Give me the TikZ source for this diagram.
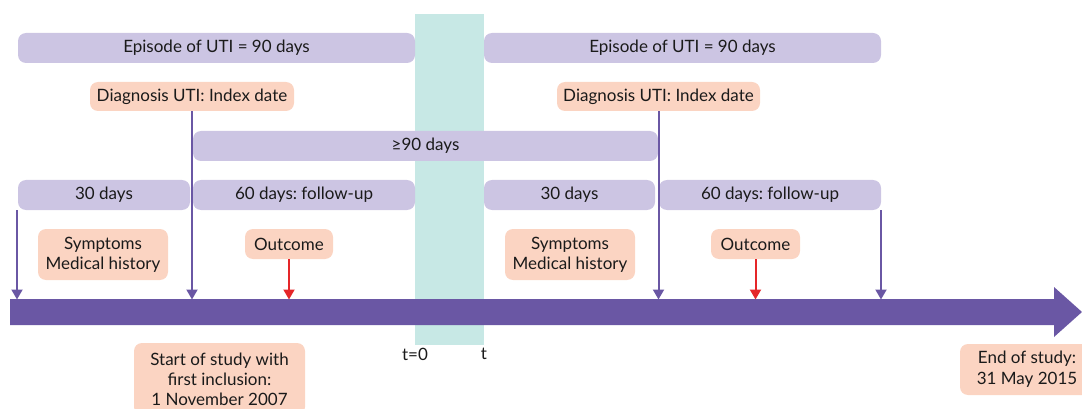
\documentclass[tikz,border=0pt]{standalone}
\usepackage{fontspec}
\setmainfont{Lato}
\frenchspacing
\usetikzlibrary{arrows.meta}
\definecolor{axiscol}{HTML}{6A57A4}
\definecolor{lav}{HTML}{CCC5E3}
\definecolor{peach}{HTML}{FBD4C2}
\definecolor{tealband}{HTML}{C7E8E5}
\definecolor{redarr}{HTML}{E52629}
\definecolor{txt}{HTML}{1A1A1A}
\tikzset{
  txtfont/.style={font=\fontsize{17}{20}\selectfont\frenchspacing, text=txt},
  bar/.style={fill=lav, rounded corners=8pt, inner sep=0pt, minimum height=30pt, txtfont},
  lbl/.style={fill=peach, rounded corners=8pt, inner sep=0pt, align=center, txtfont},
  conn/.style={draw=axiscol, line width=2pt, -{Triangle[width=11pt,length=10pt]}, shorten >=-0.5pt},
  rconn/.style={draw=redarr, line width=2pt, -{Triangle[width=11pt,length=10pt]}, shorten >=-0.5pt},
}
\begin{document}
\begin{tikzpicture}[x=1pt,y=-1pt]
\useasboundingbox (0,0) rectangle (1082,409);
% teal band
\fill[tealband] (415,14) rectangle (484,345);
% bars
\node[bar, minimum width=397pt] (ep1) at (216.5,48) {Episode of UTI = 90 days};
\node[bar, minimum width=397pt] (ep2) at (682.5,48) {Episode of UTI = 90 days};
\node[lbl, minimum width=204pt, minimum height=29pt] (diag1) at (192,96.5) {Diagnosis UTI: Index date};
\node[lbl, minimum width=203pt, minimum height=29pt] (diag2) at (658.5,96.5) {Diagnosis UTI: Index date};
\node[bar, minimum width=465pt] (ge90) at (425.5,146) {≥90 days};
\node[bar, minimum width=172pt] (d30a) at (104,195) {30 days};
\node[bar, minimum width=222pt] (d60a) at (304,195) {60 days: follow-up};
\node[bar, minimum width=171pt] (d30b) at (569.5,195) {30 days};
\node[bar, minimum width=222pt] (d60b) at (770,195) {60 days: follow-up};
% labels
\node[lbl, minimum width=130pt, minimum height=51pt] (symp1) at (103,254.5) {Symptoms\\Medical history};
\node[lbl, minimum width=130pt, minimum height=51pt] (symp2) at (570,254.5) {Symptoms\\Medical history};
\node[lbl, minimum width=88pt, minimum height=30pt] (out1) at (289,244) {Outcome};
\node[lbl, minimum width=89pt, minimum height=30pt] (out2) at (755.5,244) {Outcome};
\node[lbl, minimum width=171pt, minimum height=72pt] (start) at (219.5,379) {Start of study with\\first inclusion:\\1 November 2007};
\node[lbl, minimum width=134pt, minimum height=51pt, font=\fontsize{17}{21}\selectfont\frenchspacing] (end) at (1027,369.5) {End of study:\\31 May 2015};
\node[txtfont, inner sep=0pt] (t0) at (415,354) {t=0};
\node[txtfont, inner sep=0pt] (t1) at (484,354) {t};
% axis
\fill[axiscol] (10,299) -- (1054,299) -- (1054,287) -- (1082,312) -- (1054,337) -- (1054,325) -- (10,325) -- cycle;
\coordinate (axtop) at (0,299);
\coordinate (s1) at (17,210);
\coordinate (s2) at (881,210);
% connectors
\draw[conn] (s1) -- (s1 |- axtop);
\draw[conn] (diag1.south) -- (diag1.south |- axtop);
\draw[conn] (diag2.south) -- (diag2.south |- axtop);
\draw[conn] (s2) -- (s2 |- axtop);
\draw[rconn] (out1.south) -- (out1.south |- axtop);
\draw[rconn] (out2.south) -- (out2.south |- axtop);
\end{tikzpicture}
\end{document}
